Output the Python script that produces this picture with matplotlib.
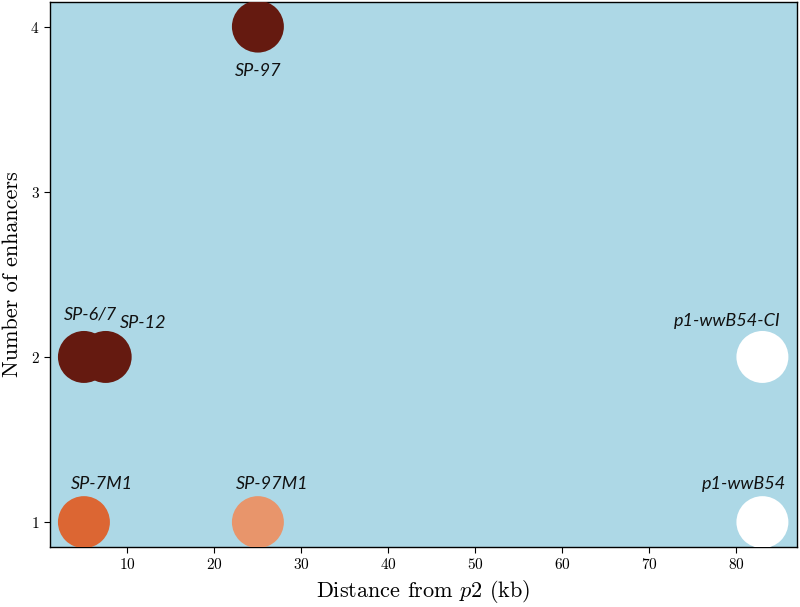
import matplotlib
matplotlib.use("Agg")
import matplotlib.pyplot as plt

# construct data
names = ["SP-97", "SP-6/7", "SP-12", "SP-7M1", "SP-97M1", "p1-wwB54-CI", "p1-wwB54"]
distance_kb = [25, 5, 7.5, 5, 25, 83, 83]
n_enhancers = [4, 2, 2, 1, 1, 2, 1]
colors = ["#651a10", "#651a10", "#651a10", "#dc6633", "#e8956b", "#ffffff", "#ffffff"]

# label offsets in pixels (dx, dy to baseline)
label_offsets = [(0, -49), (7, 37), (38, 29), (18, 33), (14, 33), (-35, 31), (-18, 33)]

plt.rcParams["mathtext.fontset"] = "cm"
plt.rcParams["axes.formatter.use_mathtext"] = True

fig = plt.figure(figsize=(8.0, 6.07), dpi=100)
ax = fig.add_axes([0.0625, 0.099, 0.934, 0.898])
ax.set_facecolor("lightblue")

ax.scatter(distance_kb, n_enhancers, s=1400, c=colors, edgecolors="none", zorder=3)

for name, x, y, off in zip(names, distance_kb, n_enhancers, label_offsets):
    ax.annotate(name, (x, y), xytext=off, textcoords="offset pixels",
                ha="center", va="baseline", fontsize=13, style="italic",
                family="Lato", color="#111111", zorder=4)

ax.set_xlim(1.1, 87.0)
ax.set_ylim(0.85, 4.15)
ax.set_xticks([10, 20, 30, 40, 50, 60, 70, 80])
ax.set_yticks([1, 2, 3, 4])
for lab in ax.get_xticklabels() + ax.get_yticklabels():
    lab.set_family("cmr10")
    lab.set_fontsize(11)
ax.tick_params(length=4, width=0.8, color="black")

ax.set_xlabel(r"Distance from $\mathit{p2}$ (kb)", family="cmr10", fontsize=16, labelpad=4)
ax.set_ylabel("Number of enhancers", family="cmr10", fontsize=16, labelpad=6)

for sp in ax.spines.values():
    sp.set_linewidth(1.0)
    sp.set_color("black")

fig.savefig("out.png", dpi=100)
